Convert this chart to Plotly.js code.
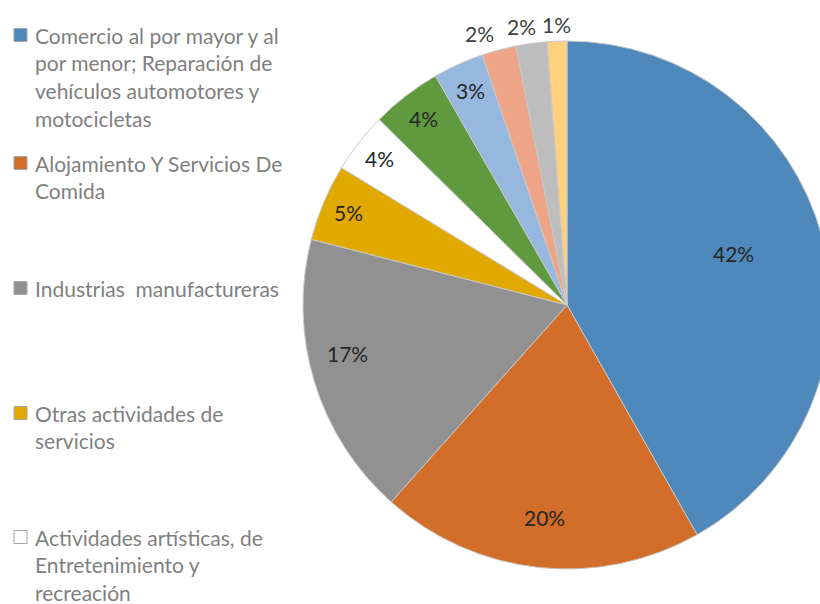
<!DOCTYPE html>
<html><head><meta charset="utf-8">
<script src="https://cdn.plot.ly/plotly-3.0.1.min.js"></script>
<style>html,body{margin:0;padding:0;overflow:hidden;background:#fff}</style>
</head><body><div id="chart" style="width:840px;height:604px"></div>
<script>
// Data
const categories = [
  "Comercio al por mayor y al por menor; Reparación de vehículos automotores y motocicletas",
  "Alojamiento Y Servicios De Comida",
  "Industrias  manufactureras",
  "Otras actividades de servicios",
  "Actividades artísticas, de Entretenimiento y recreación",
  "Actividades profesionales, científicas y técnicas",
  "Transporte y almacenamiento",
  "Información y comunicaciones",
  "Actividades de servicios administrativos y de apoyo",
  "Construcción"
];
const values = [41.8, 19.8, 17.4, 4.7, 3.7, 4.3, 3.1, 2.1, 1.9, 1.2];
const colors = ["#4F88BB", "#D26D2A", "#919191", "#E1A800", "#FFFFFF",
                "#5F9A3F", "#96B8DE", "#EEA587", "#BDBDBD", "#FFD17F"];
// Legend (only the first five entries are visible in the original)
const legendLines = [
  ["Comercio al por mayor y al", "por menor; Reparación de", "vehículos automotores y", "motocicletas"],
  ["Alojamiento Y Servicios De", "Comida"],
  ["Industrias\u00a0 manufactureras"],
  ["Otras actividades de", "servicios"],
  ["Actividades artísticas, de", "Entretenimiento y", "recreación"]
];

// Styles / layout
const W = 840, H = 604;
const FONT = "Lato, 'Open Sans', sans-serif";
const itemTop = [35, 163, 288, 413, 537];
const lineGap = 27.8;
const labelRadius = [0.66, 0.81, 0.85, 0.90, 0.90, 0.89, 0.89, 1.08, 1.07, 1.065];
const labelTurn = [-2.5, 0, 4.5, 0, 0, 0, 0, -3, -1.5, 0];   // degrees, fine placement
const pieX = [303, 831], pieY = [41, 569];
const cx = (pieX[0] + pieX[1]) / 2, cy = (pieY[0] + pieY[1]) / 2, R = (pieX[1] - pieX[0]) / 2;

const annotations = [];
const shapes = [];
legendLines.forEach((lines, i) => {
  lines.forEach((ln, j) => {
    const yc = itemTop[i] + j * lineGap;
    annotations.push({
      xref: "paper", yref: "paper", x: 33 / W, y: 1 - yc / H,
      xanchor: "left", yanchor: "middle", showarrow: false,
      text: ln, font: {family: FONT, size: 21, color: "#7F7F7F"}
    });
  });
  const yc = itemTop[i];
  shapes.push({
    type: "rect", xref: "paper", yref: "paper",
    x0: 14 / W, x1: 27 / W, y0: 1 - (yc + 6.5) / H, y1: 1 - (yc - 6.5) / H,
    fillcolor: colors[i], line: {color: "#A6A6A6", width: 1}
  });
});

// Percentage labels placed from the data (mid-angle of each slice)
const total = values.reduce((a, b) => a + b, 0);
let cum = 0;
values.forEach((v, i) => {
  const mid = (cum + v / 2) / total * 2 * Math.PI + labelTurn[i] * Math.PI / 180;
  cum += v;
  const r = labelRadius[i] * R;
  const px = cx + r * Math.sin(mid), py = cy - r * Math.cos(mid);
  annotations.push({
    xref: "paper", yref: "paper", x: px / W, y: 1 - py / H,
    xanchor: "center", yanchor: "middle", showarrow: false,
    text: Math.round(v / total * 100) + "%",
    font: {family: FONT, size: 21, color: labelRadius[i] > 1 ? "#404040" : "#262626"}
  });
});

const trace = {
  type: "pie",
  labels: categories,
  values: values,
  sort: false,
  direction: "clockwise",
  rotation: 0,
  marker: {colors: colors, line: {color: "#C8C8C8", width: 1}},
  textinfo: "none",
  domain: {x: [pieX[0] / W, pieX[1] / W], y: [1 - pieY[1] / H, 1 - pieY[0] / H]},
  showlegend: false,
  hoverinfo: "label+percent"
};

const layout = {
  width: W, height: H,
  margin: {l: 0, r: 0, t: 0, b: 0},
  paper_bgcolor: "#FFFFFF",
  showlegend: false,
  annotations: annotations,
  shapes: shapes
};

Plotly.newPlot("chart", [trace], layout, {displayModeBar: false, staticPlot: true});
</script>
</body></html>
